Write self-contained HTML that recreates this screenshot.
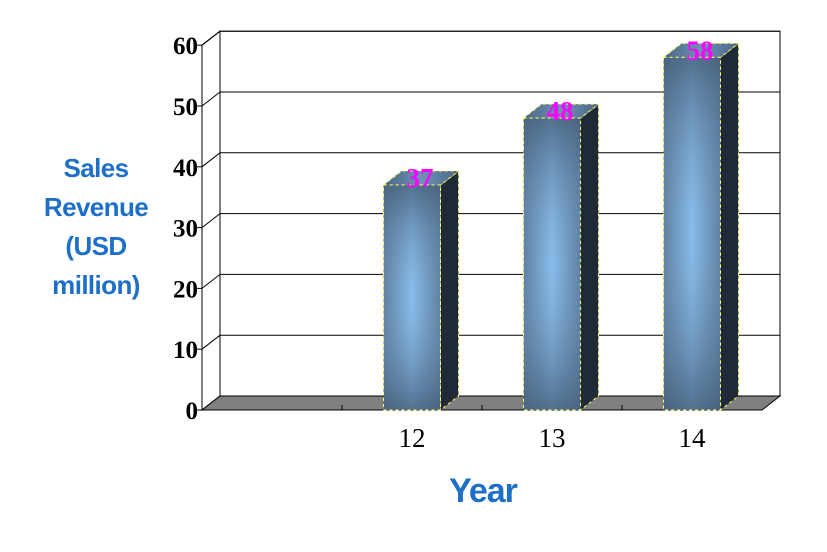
<!DOCTYPE html>
<html><head><meta charset="utf-8"><style>
body{margin:0;background:#fff;width:827px;height:552px;overflow:hidden}
svg{display:block}
</style></head><body>
<svg id="chart" width="827" height="552" xmlns="http://www.w3.org/2000/svg">
<defs>
<linearGradient id="gH" x1="0" x2="1" y1="0" y2="0">
<stop offset="0" stop-color="#3e5670"/><stop offset="0.5" stop-color="#7fb5e6"/><stop offset="1" stop-color="#3e5670"/>
</linearGradient>
<linearGradient id="gV" x1="0" x2="0" y1="0" y2="1">
<stop offset="0" stop-color="#4a6580" stop-opacity="0.85"/><stop offset="0.5" stop-color="#9ccdf8" stop-opacity="0.35"/><stop offset="1" stop-color="#4a6580" stop-opacity="0.85"/>
</linearGradient>
<linearGradient id="gTop" x1="0" x2="1" y1="0" y2="0">
<stop offset="0" stop-color="#4b6684"/><stop offset="0.5" stop-color="#6d93b8"/><stop offset="1" stop-color="#4b6684"/>
</linearGradient>
</defs>
<g id="plot"></g>
</svg>
<script>
const categories = ["", "12", "13", "14"];
const values = [null, 37, 48, 58];
const yTicks = [0, 10, 20, 30, 40, 50, 60];

const NS = "http://www.w3.org/2000/svg";
const svg = document.getElementById('plot');
const X0 = 202, X1 = 762, Y0 = 410, YMAX = 60, PXPER = 6.08, DX = 18, DY = -14;
const slot = (X1 - X0) / categories.length;
function yS(v){ return Y0 - v * PXPER; }
function xC(i){ return X0 + slot * (i + 0.5); }
function mk(tag, attrs, parent){
  const e = document.createElementNS(NS, tag);
  for (const k in attrs) e.setAttribute(k, attrs[k]);
  (parent || svg).appendChild(e);
  return e;
}
let e = mk('rect', {x: X0+DX, y: yS(YMAX)+DY, width: X1-X0, height: YMAX*PXPER, fill: '#fff', stroke: '#000', 'stroke-width': 1});


e = mk('polygon', {points: `${X0},${yS(YMAX)} ${X0+DX},${yS(YMAX)+DY} ${X0+DX},${Y0+DY} ${X0},${Y0}`, fill: '#fff', stroke: '#000'});


yTicks.forEach(t => {
  const g = mk('line', {x1: X0, y1: yS(t), x2: X0+DX, y2: yS(t)+DY, stroke: '#000'});
  
  
  const l = mk('line', {x1: X0+DX, y1: yS(t)+DY, x2: X1+DX, y2: yS(t)+DY, stroke: '#000'});
  
  
  const tk = mk('line', {x1: X0-5, y1: yS(t), x2: X0, y2: yS(t), stroke: '#000'});
  
  
  const tx = mk('text', {x: X0-4, y: yS(t)+9, 'text-anchor': 'end', 'font-family': 'Liberation Serif, serif', 'font-size': 25, 'font-weight': 'bold'});
  tx.textContent = t;
  
  
});
e = mk('polygon', {points: `${X0},${Y0} ${X0+DX},${Y0+DY} ${X1+DX},${Y0+DY} ${X1},${Y0}`, fill: '#808080', stroke: '#000'});


e = mk('line', {x1: X0, y1: yS(YMAX), x2: X0, y2: Y0, stroke: '#000'});


for (let i = 1; i < categories.length; i++) {
  const t = mk('line', {x1: X0+slot*i, y1: Y0-5, x2: X0+slot*i, y2: Y0, stroke: '#000'});
  
  
}
const BW = 57;
categories.forEach((c, i) => {
  const lbl = mk('text', {x: xC(i), y: 447, 'text-anchor': 'middle', 'font-family': 'Liberation Serif, serif', 'font-size': 27});
  lbl.textContent = c;
  
  
  const v = values[i];
  if (v == null) return;
  const x = xC(i) - BW/2, yt = yS(v), h = Y0 - yt;
  const g = mk('g', {});
  
  
  mk('polygon', {points: `${x+BW},${yt} ${x+BW+DX},${yt+DY} ${x+BW+DX},${Y0+DY} ${x+BW},${Y0}`, fill: '#1f2a36', stroke: '#ffff66', 'stroke-dasharray': '3,3'}, g);
  mk('polygon', {points: `${x},${yt} ${x+DX},${yt+DY} ${x+BW+DX},${yt+DY} ${x+BW},${yt}`, fill: 'url(#gTop)', stroke: '#ffff66', 'stroke-dasharray': '3,3'}, g);
  mk('rect', {x: x, y: yt, width: BW, height: h, fill: 'url(#gH)'}, g);
  mk('rect', {x: x, y: yt, width: BW, height: h, fill: 'url(#gV)', stroke: '#ffff66', 'stroke-dasharray': '3,3'}, g);
  const vl = mk('text', {x: xC(i) + 8, y: yt + 2, 'text-anchor': 'middle', 'font-family': 'Liberation Serif, serif', 'font-size': 27, 'font-weight': 'bold', fill: '#ff00ff'});
  vl.textContent = v;
  
  
});
</script>
<div style="position:absolute;left:28px;top:149px;width:136px;text-align:center;font-family:'Liberation Sans',sans-serif;font-weight:bold;font-size:26px;line-height:39px;color:#1e6fc8;letter-spacing:-0.6px">Sales<br>Revenue<br>(USD<br>million)</div>
<div style="position:absolute;left:408px;top:472px;width:150px;text-align:center;font-family:'Liberation Sans',sans-serif;font-weight:bold;font-size:34px;color:#1e6fc8;letter-spacing:-1px">Year</div>
</body></html>
